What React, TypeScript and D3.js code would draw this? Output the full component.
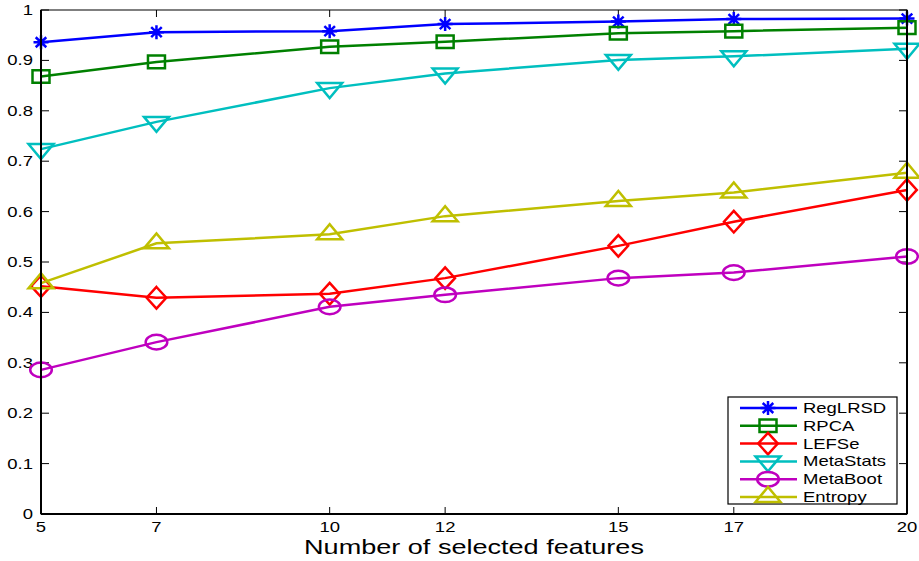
import React from "react";
import * as d3 from "d3";

const xValues = [5, 7, 10, 12, 15, 17, 20];
const xTickLabels = ["5", "7", "10", "12", "15", "17", "20"];
const yTicks = [0, 0.1, 0.2, 0.3, 0.4, 0.5, 0.6, 0.7, 0.8, 0.9, 1];
const yTickLabels = ["0", "0.1", "0.2", "0.3", "0.4", "0.5", "0.6", "0.7", "0.8", "0.9", "1"];

const regLRSD = [0.936, 0.956, 0.958, 0.972, 0.977, 0.982, 0.983];
const rpca = [0.868, 0.897, 0.927, 0.937, 0.954, 0.958, 0.965];
const lefse = [0.452, 0.429, 0.437, 0.468, 0.532, 0.580, 0.643];
const metaStats = [0.724, 0.778, 0.845, 0.874, 0.901, 0.908, 0.923];
const metaBoot = [0.286, 0.341, 0.411, 0.435, 0.468, 0.479, 0.511];
const entropy = [0.458, 0.537, 0.555, 0.591, 0.621, 0.638, 0.677];

const seriesNames = ["RegLRSD", "RPCA", "LEFSe", "MetaStats", "MetaBoot", "Entropy"];
const seriesValues = [regLRSD, rpca, lefse, metaStats, metaBoot, entropy];
const seriesColors = ["#0000ff", "#008000", "#ff0000", "#00bfbf", "#bf00bf", "#bfbf00"];
const seriesMarkers = ["asterisk", "square", "diamond", "triDown", "circle", "triUp"];

const xLabel = "Number of selected features";

const W = 919;
const H = 561;
const left = 41;
const right = 907;
const top = 10;
const bottom = 514;
const FONT = "'Liberation Sans', Arial, Helvetica, sans-serif";
const SX = 1.32;

function markerPath(kind: string): string {
  switch (kind) {
    case "asterisk":
      return "M-7.5,0L7.5,0M0,-7L0,7M-5.3,-5L5.3,5M-5.3,5L5.3,-5";
    case "square":
      return "M-8.5,-6.3L8.5,-6.3L8.5,6.3L-8.5,6.3Z";
    case "diamond":
      return "M0,-10.8L9.8,0L0,10.8L-9.8,0Z";
    case "triDown":
      return "M-12.5,-5L12.5,-5L0,10Z";
    case "triUp":
      return "M-12.5,5L12.5,5L0,-10Z";
    case "circle":
      return "M-10.8,0A10.8,7.3 0 1,0 10.8,0A10.8,7.3 0 1,0 -10.8,0Z";
  }
  return "";
}

function SText(props: { x: number; y: number; size: number; anchor?: string; sx?: number; children: React.ReactNode }) {
  const s = props.sx ?? SX;
  return (
    <text
      transform={`translate(${props.x},${props.y}) scale(${s},1)`}
      textAnchor={props.anchor || "start"}
      fontSize={props.size}
      fill="#000"
    >
      {props.children}
    </text>
  );
}

export default function App() {
  const x = d3.scaleLinear().domain([5, 20]).range([left, right]);
  const y = d3.scaleLinear().domain([0, 1]).range([bottom, top]);
  const line = d3
    .line<number>()
    .x((_, i) => x(xValues[i]))
    .y((d) => y(d));

  const legX = 728;
  const legY = 397;
  const legW = 169;
  const legH = 107;
  const rowH = 17.8;

  return (
    <svg
      width={W}
      height={H}
      style={{ position: "absolute", left: 0, top: 0, background: "#fff" }}
      fontFamily={FONT}
    >
      <rect x={0} y={0} width={W} height={H} fill="#fff" />
      {xValues.map((v, i) => (
        <g key={"xt" + i}>
          <line x1={x(v)} x2={x(v)} y1={bottom} y2={bottom - 7} stroke="#000" strokeWidth={1} />
          <line x1={x(v)} x2={x(v)} y1={top} y2={top + 7} stroke="#000" strokeWidth={1} />
          <SText x={x(v)} y={532} size={14} anchor="middle">
            {xTickLabels[i]}
          </SText>
        </g>
      ))}
      {yTicks.map((v, i) => (
        <g key={"yt" + i}>
          <line x1={left} x2={left + 8} y1={y(v)} y2={y(v)} stroke="#000" strokeWidth={1} />
          <line x1={right} x2={right - 8} y1={y(v)} y2={y(v)} stroke="#000" strokeWidth={1} />
          <SText x={33} y={y(v) + 5} size={14} anchor="end">
            {yTickLabels[i]}
          </SText>
        </g>
      ))}
      {seriesValues.map((vals, si) => (
        <g key={"s" + si}>
          <path d={line(vals) || ""} fill="none" stroke={seriesColors[si]} strokeWidth={2.5} />
          {vals.map((v, i) => (
            <path
              key={i}
              d={markerPath(seriesMarkers[si])}
              transform={`translate(${x(xValues[i])},${y(v)})`}
              fill="none"
              stroke={seriesColors[si]}
              strokeWidth={2.5}
            />
          ))}
        </g>
      ))}
      <rect x={left} y={top} width={right - left} height={bottom - top} fill="none" stroke="#000" strokeWidth={1} />
      <line x1={left} x2={left} y1={top} y2={bottom} stroke="#000" strokeWidth={2} />
      <line x1={left} x2={right} y1={bottom} y2={bottom} stroke="#000" strokeWidth={2} />
      <line x1={right} x2={right} y1={top} y2={bottom} stroke="#000" strokeWidth={2} />
      <SText x={(left + right) / 2} y={554} size={20.5} anchor="middle" sx={1.32}>
        {xLabel}
      </SText>
      <rect x={legX} y={legY} width={legW} height={legH} fill="#fff" stroke="#000" strokeWidth={1.2} />
      {seriesNames.map((name, si) => {
        const cy = legY + 11 + si * rowH;
        return (
          <g key={"l" + si}>
            <line x1={740} x2={797} y1={cy} y2={cy} stroke={seriesColors[si]} strokeWidth={2.5} />
            <path
              d={markerPath(seriesMarkers[si])}
              transform={`translate(768,${cy})`}
              fill="none"
              stroke={seriesColors[si]}
              strokeWidth={2.5}
            />
            <SText x={803} y={cy + 5} size={14} sx={1.32}>
              {name}
            </SText>
          </g>
        );
      })}
    </svg>
  );
}
